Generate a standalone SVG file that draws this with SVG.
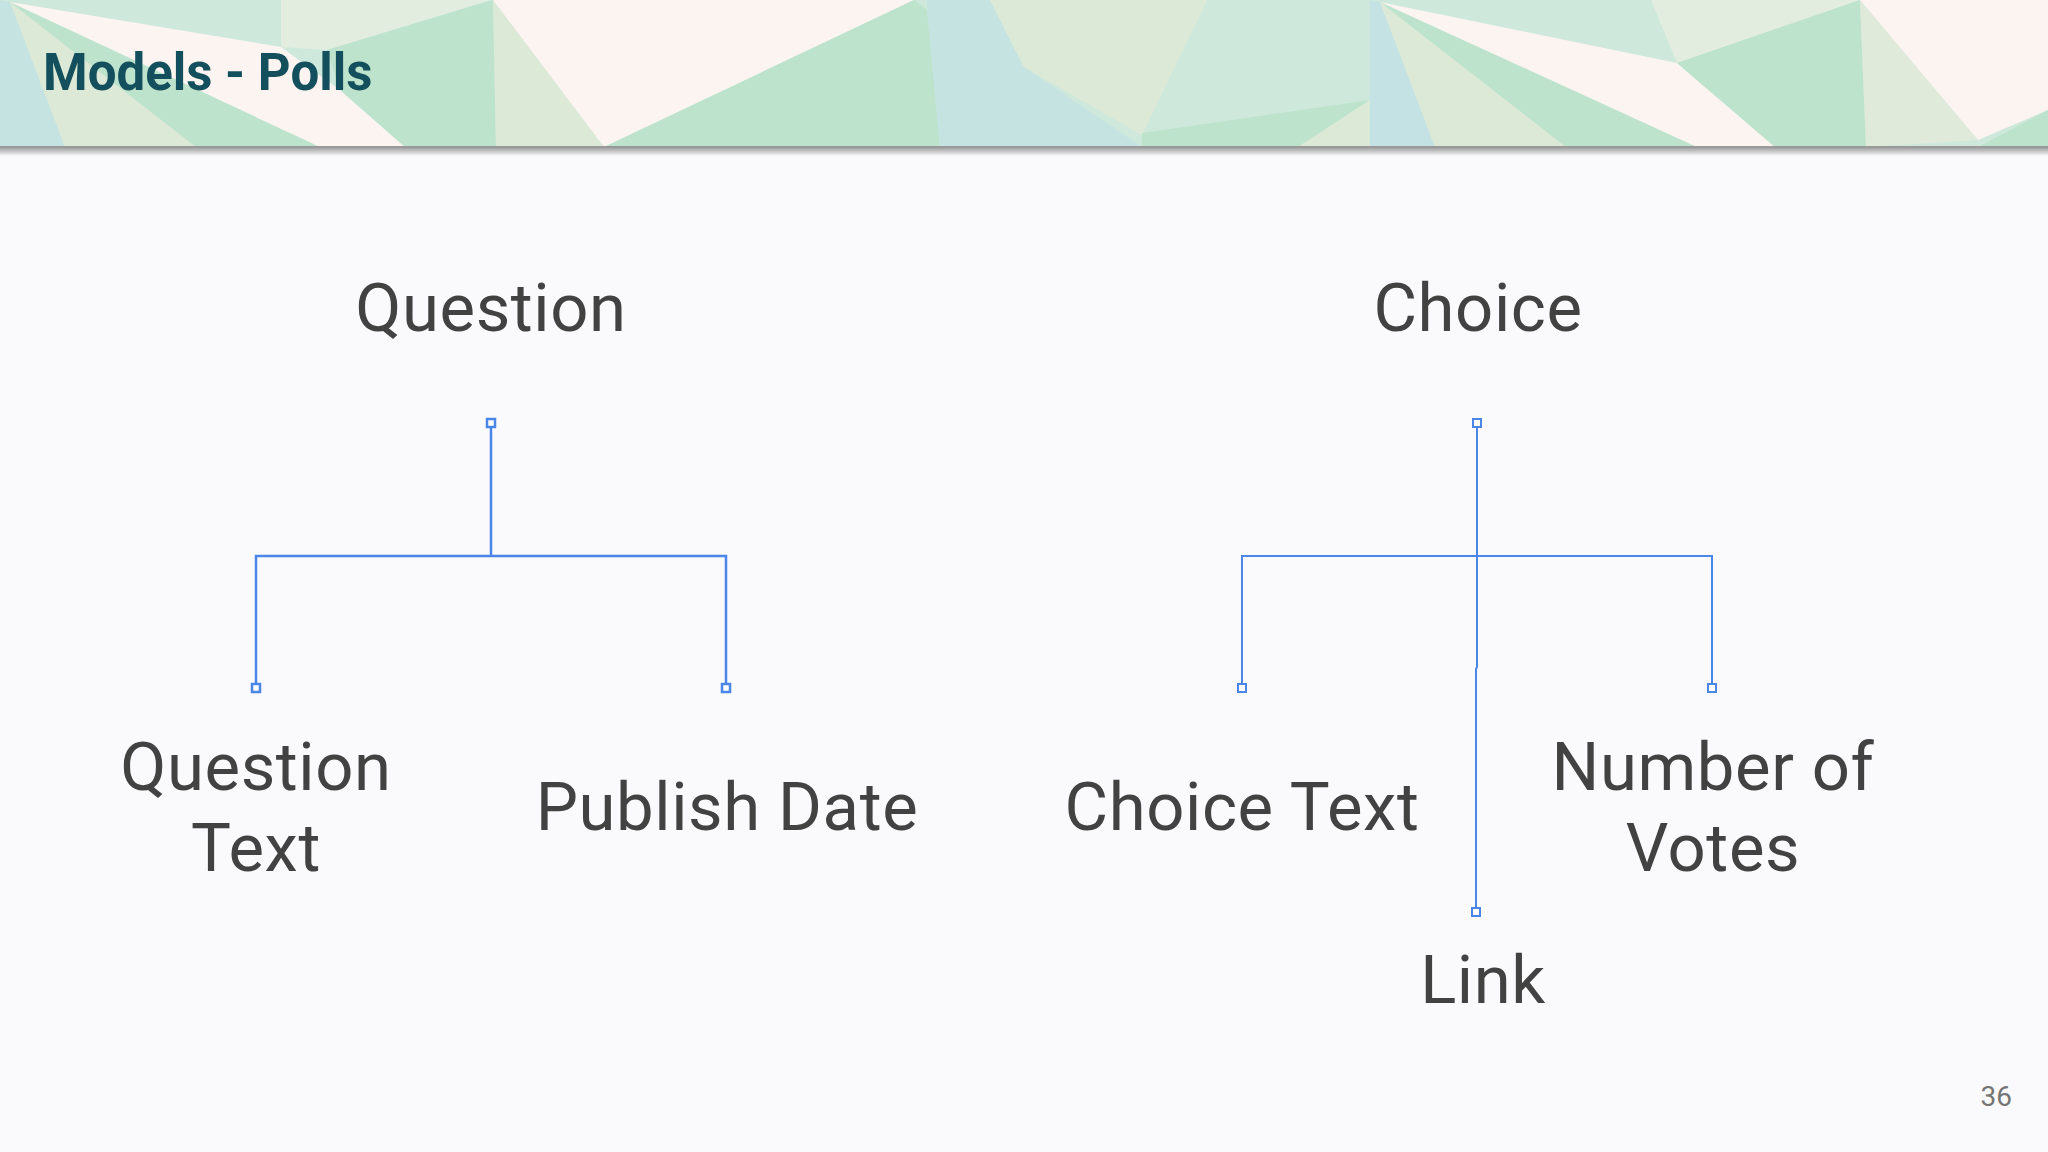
<svg xmlns="http://www.w3.org/2000/svg" width="2048" height="1152" viewBox="0 0 2048 1152">
<defs>
<linearGradient id="shadow" x1="0" y1="0" x2="0" y2="1">
<stop offset="0" stop-color="#000" stop-opacity="0.35"/>
<stop offset="1" stop-color="#000" stop-opacity="0"/>
</linearGradient>
</defs>
<style>
.lbl{font-family:Roboto,"Liberation Sans",sans-serif;font-size:67px;letter-spacing:0.6px;fill:#424242;text-anchor:middle}
.title{font-family:Roboto,"Liberation Sans",sans-serif;font-size:51px;font-weight:bold;fill:#134f5c}
.pg{font-family:Roboto,"Liberation Sans",sans-serif;font-size:28px;fill:#757575;text-anchor:end}
.ln{fill:none;stroke:#4a86e8;stroke-width:2.5}
.ln2{fill:none;stroke:#4a86e8;stroke-width:2}
.ep{fill:#fff;stroke:#4a86e8;stroke-width:2.5}
.ep2{fill:#fff;stroke:#4a86e8;stroke-width:2}
.w{fill:#fbf4f1}.g{fill:#bde3cc}.cg{fill:#dde9d7}.lc{fill:#e2ede0}.lb{fill:#c5e3e1}
</style>
<rect x="0" y="0" width="2048" height="1152" fill="#fafafc"/>
<g id="header">
<rect x="0" y="0" width="2048" height="147" fill="#cfe8dc"/>
<polygon class="lb" points="0,0 10,2 65,147 0,147"/>
<polygon class="cg" points="10,2 196,147 65,147"/>
<polygon class="g" points="10,2 320,147 196,147"/>
<polygon class="w" points="10,2 281,47 340,90 405,147 320,147"/>
<polygon class="lc" points="281,0 490,0 327,50 281,47"/>
<polygon class="g" points="327,50 493,0 496,147 405,147 340,90"/>
<polygon class="cg" points="493,0 604,147 496,147"/>
<polygon class="w" points="493,0 914,0 604,147"/>
<polygon class="g" points="914,0 927,10 940,147 604,147"/>
<polygon class="lb" points="927,0 990,0 1024,67 1142,147 940,147 927,10"/>
<polygon class="cg" points="990,0 1207,0 1142,135 1024,67"/>
<polygon class="g" points="1142,133 1370,100 1298,147 1142,147"/>
<polygon class="cg" points="1298,147 1370,100 1370,147"/>
<polygon fill="#c4e2e4" points="1370,0 1380,2 1435,147 1370,147"/>
<polygon class="cg" points="1380,2 1566,147 1435,147"/>
<polygon class="g" points="1380,2 1697,147 1566,147"/>
<polygon class="w" points="1380,2 1677,63 1775,147 1697,147"/>
<polygon class="lc" points="1651,0 1860,0 1677,63"/>
<polygon class="g" points="1677,63 1860,0 1866,147 1775,147"/>
<polygon fill="#dfeada" points="1860,0 1978,140 1866,147"/>
<polygon class="w" points="1860,0 2048,0 2048,110 1978,140"/>
<polygon class="g" points="1978,147 2048,110 2048,147"/>
<rect x="0" y="146" width="2048" height="2" fill="#9a9a9a"/>
<rect x="0" y="148" width="2048" height="8" fill="url(#shadow)"/>
<text class="title" x="43" y="90">Models - Polls</text>
</g>
<g id="connectors">
<path class="ln" d="M491,423 V556 M256,688 V556 H726 V688"/>
<rect class="ep" x="487" y="419" width="8" height="8"/>
<rect class="ep" x="252" y="684" width="8" height="8"/>
<rect class="ep" x="722" y="684" width="8" height="8"/>
<path class="ln2" d="M1477,423 V667 L1476,669 V912 M1242,688 V556 H1712 V688"/>
<rect class="ep2" x="1473" y="419" width="8" height="8"/>
<rect class="ep2" x="1238" y="684" width="8" height="8"/>
<rect class="ep2" x="1708" y="684" width="8" height="8"/>
<rect class="ep2" x="1472" y="908" width="8" height="8"/>
</g>
<g id="node-question"><text class="lbl" x="491" y="331">Question</text></g>
<g id="node-choice"><text class="lbl" x="1478" y="331">Choice</text></g>
<g id="node-question-text"><text class="lbl" x="256" y="790">Question</text><text class="lbl" x="256" y="871">Text</text></g>
<g id="node-publish-date"><text class="lbl" x="727" y="830">Publish Date</text></g>
<g id="node-choice-text"><text class="lbl" x="1242" y="830">Choice Text</text></g>
<g id="node-number-of-votes"><text class="lbl" x="1713" y="790">Number of</text><text class="lbl" x="1713" y="871">Votes</text></g>
<g id="node-link"><text class="lbl" x="1483" y="1003">Link</text></g>
<text class="pg" x="2012" y="1106">36</text>
</svg>
